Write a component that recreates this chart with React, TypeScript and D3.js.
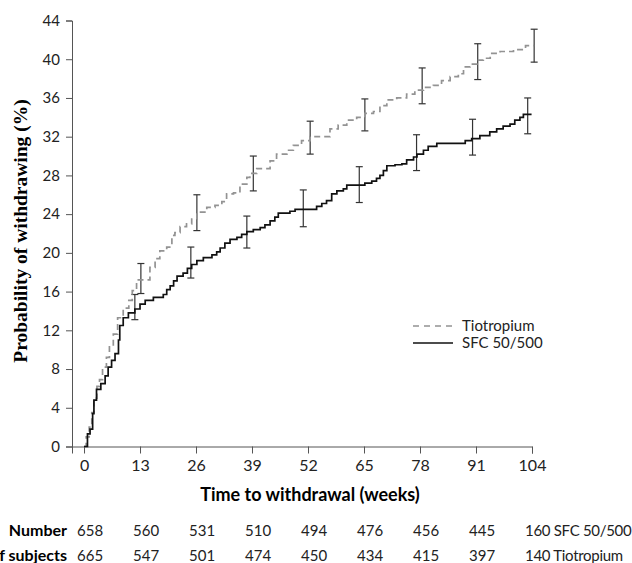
import React, { useEffect, useRef } from 'react'
import * as d3 from 'd3'

// Kaplan-Meier steps: [week, % withdrawn]
const sfcSteps: [number, number][] = [
  [0, 0], [0.8, 1.3], [1.4, 1.8], [2.0, 3.4], [2.3, 4.8], [2.9, 5.9], [3.9, 6.5],
  [4.9, 7.3], [5.6, 8.2], [6.4, 8.9], [7.2, 9.6], [8.0, 11.0], [8.3, 12.5],
  [9.1, 13.3], [10.3, 13.8], [11.8, 14.2], [13.0, 14.7], [14.2, 15.1], [16.1, 15.4],
  [18.4, 15.7], [19.2, 16.2], [20.0, 16.6], [20.8, 17.1], [21.6, 17.6], [23.0, 17.9],
  [24.0, 18.4], [25.0, 18.8], [26.2, 19.2], [27.7, 19.5], [29.7, 19.8], [30.8, 20.1],
  [31.6, 20.5], [32.7, 21.0], [33.9, 21.4], [35.5, 21.6], [36.6, 21.9], [37.8, 22.2],
  [39.3, 22.4], [40.9, 22.6], [42.0, 22.9], [43.2, 23.3], [44.3, 23.7], [45.1, 24.1],
  [47.8, 24.3], [49.0, 24.5], [54.0, 24.8], [55.2, 25.1], [56.3, 25.4], [57.5, 26.1],
  [58.7, 26.4], [60.2, 26.6], [61.0, 27.0], [65.2, 27.2], [66.8, 27.4], [67.9, 27.7],
  [68.7, 28.0], [69.5, 28.5], [70.3, 29.0], [72.2, 29.1], [73.8, 29.2], [74.9, 29.6],
  [76.5, 29.9], [77.3, 30.2], [78.8, 30.6], [79.9, 31.0], [81.9, 31.3], [88.5, 31.6],
  [90.0, 31.8], [91.9, 32.1], [94.2, 32.5], [95.8, 32.8], [97.3, 33.1], [98.9, 33.3],
  [100.0, 33.7], [101.2, 34.0], [102.0, 34.3], [103.9, 34.3]
]

const tioSteps: [number, number][] = [
  [0, 0], [0.5, 1.0], [1.2, 2.0], [1.8, 3.5], [2.3, 5.0], [3.0, 6.2], [3.6, 6.9],
  [4.3, 8.2], [5.2, 9.2], [5.9, 10.3], [6.8, 11.6], [7.8, 13.3], [9.1, 14.3],
  [10.4, 15.1], [11.2, 16.1], [12.2, 17.2], [15.3, 18.5], [16.5, 19.4], [17.6, 20.2],
  [19.2, 20.6], [20.4, 21.8], [21.1, 22.1], [22.3, 22.7], [23.8, 23.0], [25.0, 23.5],
  [26.2, 24.2], [28.5, 24.7], [30.4, 24.9], [32.0, 25.3], [33.1, 26.1], [34.7, 26.2],
  [36.2, 27.1], [37.8, 27.8], [38.5, 28.2], [40.1, 28.7], [43.2, 29.5], [44.7, 30.2],
  [47.1, 30.6], [48.6, 31.1], [50.5, 31.6], [52.5, 32.0], [57.1, 32.8], [59.0, 33.2],
  [61.0, 33.7], [63.3, 34.0], [65.2, 34.4], [67.2, 34.6], [68.7, 35.2], [70.3, 35.8],
  [72.6, 36.0], [74.9, 36.4], [76.8, 36.8], [78.8, 37.1], [81.1, 37.3], [83.0, 37.8],
  [85.0, 38.2], [86.9, 38.5], [88.1, 39.2], [89.6, 39.5], [91.2, 39.9], [92.7, 40.1],
  [94.3, 40.6], [96.6, 40.8], [99.7, 41.0], [102.5, 41.4], [104.5, 41.4]
]

// 95% CI bars: week, lower, upper
const tioBarWeeks = [13.2, 26.2, 39.3, 52.5, 65.2, 78.5, 91.4, 104.5]
const tioBarLow = [15.8, 22.3, 26.4, 30.2, 32.6, 35.4, 37.9, 39.7]
const tioBarHigh = [18.9, 26.0, 30.0, 33.6, 35.9, 39.1, 41.6, 43.1]

const sfcBarWeeks = [11.8, 24.8, 37.8, 50.9, 63.9, 77.2, 90.2, 103]
const sfcBarLow = [13.1, 17.4, 20.5, 22.7, 25.2, 28.5, 30.1, 32.3]
const sfcBarHigh = [15.7, 20.6, 23.8, 26.5, 28.9, 32.2, 33.8, 36.0]

const xTicks = [0, 13, 26, 39, 52, 65, 78, 91, 104]
const yTicks = [0, 4, 8, 12, 16, 20, 24, 28, 32, 36, 40, 44]

const atRiskWeeks = [0, 13, 26, 39, 52, 65, 78, 91, 104]
const atRiskSfc = ['658', '560', '531', '510', '494', '476', '456', '445', '160 SFC 50/500']
const atRiskTio = ['665', '547', '501', '474', '450', '434', '415', '397', '140 Tiotropium']

const sans = 'Lato, "Open Sans", sans-serif'

export default function App() {
  const ref = useRef<SVGSVGElement>(null)

  useEffect(() => {
    const svg = d3.select(ref.current)
    svg.selectAll('*').remove()

    const x = d3.scaleLinear().domain([-2.79, 104]).range([72, 532])
    const y = d3.scaleLinear().domain([0, 44]).range([446.5, 20.5])

    // y axis
    const yAxis = svg.append('g')
      .attr('transform', 'translate(72,0)')
      .call(d3.axisLeft(y).tickValues(yTicks).tickSizeOuter(0).tickSize(6).tickPadding(6))
    yAxis.select('.domain').attr('stroke', '#555')
    yAxis.selectAll('line').attr('stroke', '#555')
    yAxis.selectAll('text')
      .style('font-family', sans).style('font-size', '15px').attr('fill', '#222')

    // x axis
    const xAxis = svg.append('g')
      .attr('transform', `translate(0,${y(0)})`)
      .call(d3.axisBottom(x).tickValues(xTicks).tickSizeOuter(0).tickSize(7).tickPadding(6))
    xAxis.select('.domain').attr('stroke', '#555')
    xAxis.selectAll('line').attr('stroke', '#555')
    xAxis.selectAll('text')
      .style('font-family', sans).style('font-size', '16px').attr('fill', '#222')

    // axis titles
    svg.append('text')
      .attr('transform', 'translate(27,231) rotate(-90)')
      .attr('text-anchor', 'middle')
      .style('font-family', '"Liberation Serif", "Times New Roman", serif')
      .style('font-weight', 'bold')
      .style('font-size', '19.5px')
      .text('Probability of withdrawing (%)')

    svg.append('text')
      .attr('x', 310).attr('y', 501)
      .attr('text-anchor', 'middle')
      .style('font-family', sans)
      .style('font-weight', 'bold')
      .style('font-size', '18px')
      .text('Time to withdrawal (weeks)')

    const line = d3.line<[number, number]>()
      .x(d => x(d[0]))
      .y(d => y(d[1]))
      .curve(d3.curveStepAfter)

    // error bars
    const drawBars = (weeks: number[], lo: number[], hi: number[]) => {
      const g = svg.append('g').attr('stroke', '#333').attr('stroke-width', 1.2)
      weeks.forEach((w, i) => {
        g.append('line').attr('x1', x(w)).attr('x2', x(w)).attr('y1', y(lo[i])).attr('y2', y(hi[i]))
        g.append('line').attr('x1', x(w) - 3.5).attr('x2', x(w) + 3.5).attr('y1', y(lo[i])).attr('y2', y(lo[i]))
        g.append('line').attr('x1', x(w) - 3.5).attr('x2', x(w) + 3.5).attr('y1', y(hi[i])).attr('y2', y(hi[i]))
      })
    }
    drawBars(tioBarWeeks, tioBarLow, tioBarHigh)
    drawBars(sfcBarWeeks, sfcBarLow, sfcBarHigh)

    svg.append('path')
      .datum(tioSteps)
      .attr('d', line)
      .attr('fill', 'none')
      .attr('stroke', '#939393')
      .attr('stroke-width', 1.7)
      .attr('stroke-dasharray', '6,4')

    svg.append('path')
      .datum(sfcSteps)
      .attr('d', line)
      .attr('fill', 'none')
      .attr('stroke', '#111')
      .attr('stroke-width', 1.7)

    // legend
    const legend = svg.append('g')
    legend.append('line')
      .attr('x1', 413).attr('x2', 453).attr('y1', 326).attr('y2', 326)
      .attr('stroke', '#939393').attr('stroke-width', 1.5).attr('stroke-dasharray', '6,5')
    legend.append('line')
      .attr('x1', 413).attr('x2', 453).attr('y1', 343).attr('y2', 343)
      .attr('stroke', '#111').attr('stroke-width', 1.5)
    legend.append('text').attr('x', 462).attr('y', 331)
      .style('font-family', sans).style('font-size', '15px').attr('fill', '#222')
      .text('Tiotropium')
    legend.append('text').attr('x', 462).attr('y', 348)
      .style('font-family', sans).style('font-size', '15px').attr('fill', '#222')
      .text('SFC 50/500')

    // number at risk
    svg.append('text').attr('x', 67).attr('y', 536).attr('text-anchor', 'end')
      .style('font-family', sans).style('font-weight', 'bold').style('font-size', '16px')
      .text('Number')
    svg.append('text').attr('x', 67).attr('y', 561).attr('text-anchor', 'end')
      .style('font-family', sans).style('font-weight', 'bold').style('font-size', '16px')
      .text('of subjects')

    const rows: [string[], number][] = [[atRiskSfc, 536], [atRiskTio, 561]]
    rows.forEach(([vals, ty]) => {
      svg.append('g').selectAll('text')
        .data(vals)
        .enter()
        .append('text')
        .attr('x', (d, i) => x(atRiskWeeks[i]) - 7)
        .attr('y', ty)
        .style('font-family', sans)
        .style('font-size', '15px')
        .style('letter-spacing', (d, i) => (i === vals.length - 1 ? '-0.3px' : '0px'))
        .attr('fill', '#222')
        .text(d => d)
    })
  }, [])

  return (
    <svg
      ref={ref}
      width={632}
      height={563}
      style={{ position: 'absolute', left: 0, top: 0, background: '#fff' }}
    />
  )
}
